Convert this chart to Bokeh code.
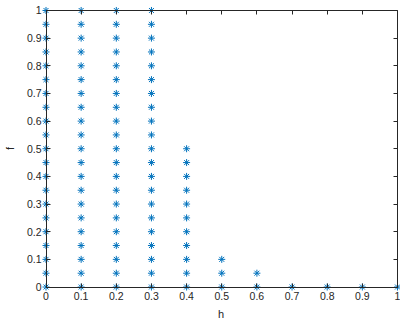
from bokeh.plotting import figure
from bokeh.models import LinearAxis, FixedTicker, Range1d, ColumnDataSource, CustomJSTickFormatter
from bokeh.embed import file_html
from bokeh.resources import INLINE

# Data
h_values = [0.0, 0.1, 0.2, 0.3, 0.4, 0.5, 0.6, 0.7, 0.8, 0.9, 1.0]
f_levels = [0.0, 0.05, 0.1, 0.15, 0.2, 0.25, 0.3, 0.35, 0.4, 0.45, 0.5,
            0.55, 0.6, 0.65, 0.7, 0.75, 0.8, 0.85, 0.9, 0.95, 1.0]
points_per_h = [21, 21, 21, 21, 11, 3, 2, 1, 1, 1, 1]
tick_values = [0.0, 0.1, 0.2, 0.3, 0.4, 0.5, 0.6, 0.7, 0.8, 0.9, 1.0]
tick_labels = ["0", "0.1", "0.2", "0.3", "0.4", "0.5", "0.6", "0.7", "0.8", "0.9", "1"]

xs, ys = [], []
for h, n in zip(h_values, points_per_h):
    for f in f_levels[:n]:
        xs.append(h)
        ys.append(f)
src = ColumnDataSource(dict(h=xs, f=ys))

AX = "#262626"
FONT = "Liberation Sans"

# pixel paddings so that edge markers are not clipped by the frame
PX_PER_X = 351.5
PX_PER_Y = 277.5
x_range = Range1d(-4.5 / PX_PER_X, 1 + 3.0 / PX_PER_X)
y_range = Range1d(-4.5 / PX_PER_Y, 1 + 5.0 / PX_PER_Y)

p = figure(width=400, height=322, output_backend="svg", toolbar_location=None,
           x_range=x_range, y_range=y_range,
           min_border=0, min_border_left=41, min_border_right=0,
           min_border_top=5, min_border_bottom=30)
p.background_fill_color = "white"
p.border_fill_color = "white"
p.outline_line_color = None
p.xgrid.visible = False
p.ygrid.visible = False

p.scatter("h", "f", source=src, marker="asterisk", size=7,
          line_color="#0072BD", line_width=1)

overrides = {v: l for v, l in zip(tick_values, tick_labels)}

# label-only axes at the frame edges
for ax in (p.xaxis[0], p.yaxis[0]):
    ax.ticker = FixedTicker(ticks=tick_values)
    ax.major_label_overrides = overrides
    ax.axis_line_color = None
    ax.major_tick_line_color = None
    ax.minor_tick_line_color = None
    ax.major_tick_in = 0
    ax.major_tick_out = 0
    ax.major_label_text_font = FONT
    ax.major_label_text_font_size = "10.5px"
    ax.major_label_text_color = AX
    ax.axis_label_text_font = FONT
    ax.axis_label_text_font_size = "11px"
    ax.axis_label_text_font_style = "normal"
    ax.axis_label_text_color = AX
    ax.major_label_standoff = 0

p.xaxis[0].axis_label = "h"
p.xaxis[0].axis_label_standoff = 5
p.yaxis[0].axis_label = "f"
p.yaxis[0].axis_label_standoff = 8

# box lines with inward ticks at data 0 and 1
for loc, where in (("below", 0), ("left", 0), ("right", 1), ("above", 1)):
    a = LinearAxis(ticker=FixedTicker(ticks=tick_values),
                   formatter=CustomJSTickFormatter(code="return ''"))
    a.fixed_location = where
    a.bounds = (0, 1)
    a.major_label_text_color = None
    a.major_label_standoff = 0
    a.major_tick_in = 4
    a.major_tick_out = 0
    a.minor_tick_line_color = None
    a.axis_line_color = AX
    a.axis_line_width = 1
    a.major_tick_line_color = AX
    p.add_layout(a, loc)

open("out.html", "w").write(file_html(p, INLINE))
